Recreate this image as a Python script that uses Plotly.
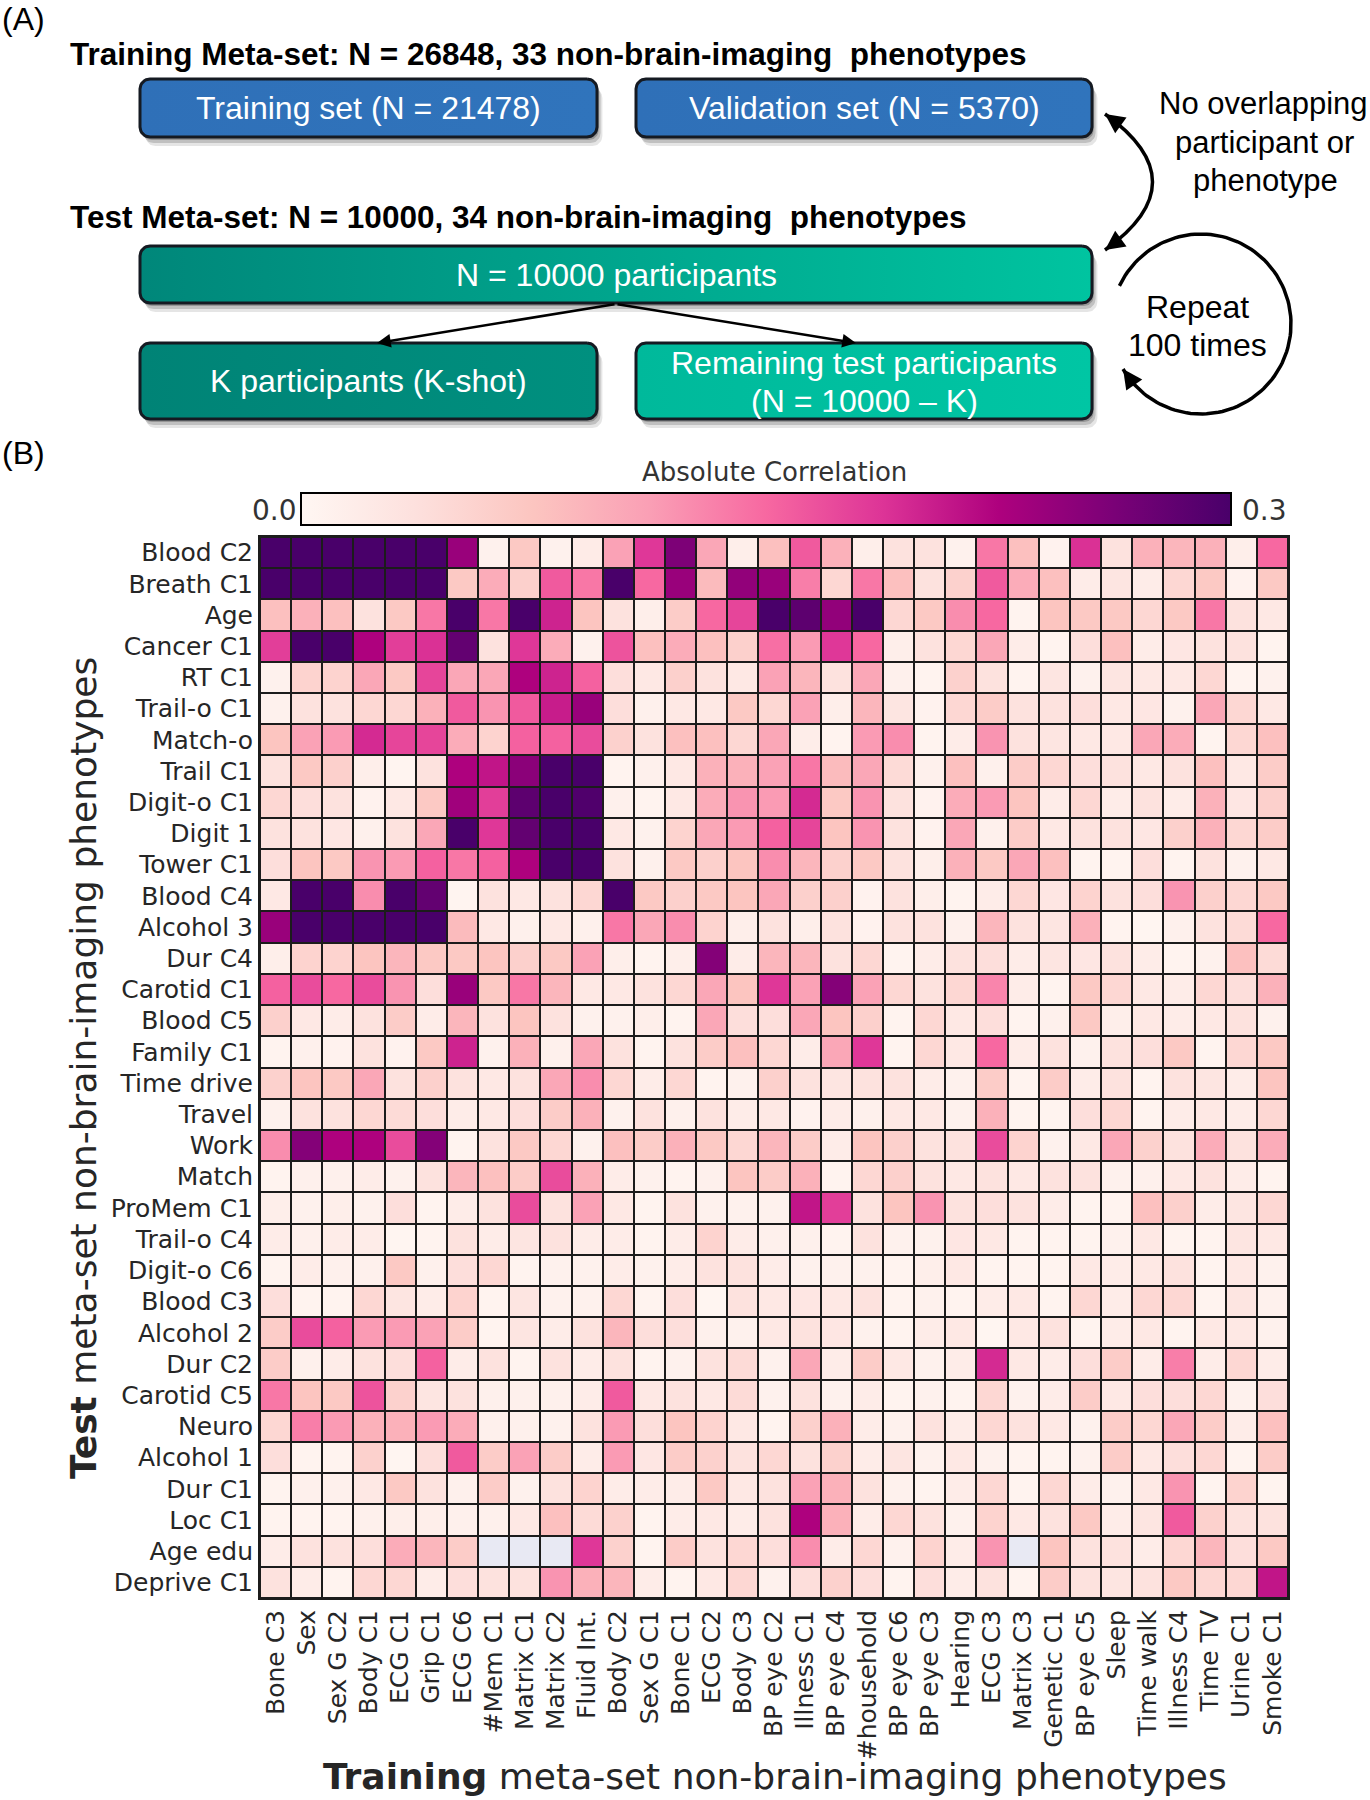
import math
import plotly.graph_objects as go

# ---------------- data ----------------
test_phenotypes = ["Blood C2", "Breath C1", "Age", "Cancer C1", "RT C1", "Trail-o C1", "Match-o",
                   "Trail C1", "Digit-o C1", "Digit 1", "Tower C1", "Blood C4", "Alcohol 3", "Dur C4",
                   "Carotid C1", "Blood C5", "Family C1", "Time drive", "Travel", "Work", "Match",
                   "ProMem C1", "Trail-o C4", "Digit-o C6", "Blood C3", "Alcohol 2", "Dur C2",
                   "Carotid C5", "Neuro", "Alcohol 1", "Dur C1", "Loc C1", "Age edu", "Deprive C1"]

train_phenotypes = ["Bone C3", "Sex", "Sex G C2", "Body C1", "ECG C1", "Grip C1", "ECG C6", "#Mem C1",
                    "Matrix C1", "Matrix C2", "Fluid Int.", "Body C2", "Sex G C1", "Bone C1", "ECG C2",
                    "Body C3", "BP eye C2", "Illness C1", "BP eye C4", "#household", "BP eye C6",
                    "BP eye C3", "Hearing", "ECG C3", "Matrix C3", "Genetic C1", "BP eye C5", "Sleep",
                    "Time walk", "Illness C4", "Time TV", "Urine C1", "Smoke C1"]

# absolute correlation, one list per test phenotype (None = excluded cell)
corr_rows = [
    [.30,.30,.30,.30,.30,.30,.24,.01,.07,.01,.02, .11,.185,.26,.105,.015,.08,.16,.095,.015,.035,.035, .01,.14,.08,.008,.19,.035,.095,.09,.095,.015,.15],
    [.30,.30,.30,.30,.30,.30,.07,.10,.06,.16,.14, .30,.15,.24,.085,.245,.24,.135,.05,.14,.08,.035, .058,.16,.10,.08,.018,.03,.018,.05,.07,.008,.07],
    [.08,.095,.08,.035,.07,.14,.30,.14,.30,.20,.075, .035,.015,.065,.15,.175,.30,.285,.245,.30,.05,.07, .125,.15,.006,.075,.07,.07,.05,.07,.14,.035,.025],
    [.18,.30,.30,.225,.18,.19,.28,.035,.185,.10,.01, .165,.08,.10,.08,.06,.145,.115,.185,.15,.015,.035, .05,.105,.018,.006,.04,.08,.018,.028,.035,.035,.006],
    [.01,.055,.055,.105,.07,.175,.105,.105,.225,.20,.155, .04,.025,.06,.035,.025,.11,.09,.035,.105,.012,.006, .058,.035,.006,.03,.01,.03,.025,.025,.05,.006,.01],
    [.01,.035,.035,.05,.05,.095,.16,.12,.16,.205,.24, .04,.012,.025,.025,.07,.05,.11,.015,.09,.03,.008, .05,.065,.035,.035,.04,.025,.028,.01,.105,.05,.025],
    [.075,.11,.115,.195,.175,.175,.10,.055,.155,.155,.17, .058,.035,.08,.08,.05,.105,.017,.006,.115,.125,.006, .018,.12,.035,.03,.025,.025,.105,.10,.006,.05,.08],
    [.035,.07,.06,.015,.005,.035,.225,.21,.25,.30,.30, .006,.012,.025,.095,.095,.11,.14,.085,.105,.045,.012, .08,.012,.065,.05,.04,.035,.025,.035,.08,.025,.065],
    [.05,.04,.035,.008,.025,.07,.235,.18,.285,.30,.295, .012,.006,.025,.10,.12,.115,.195,.07,.12,.035,.008, .10,.115,.075,.018,.05,.018,.035,.018,.095,.028,.06],
    [.035,.035,.028,.012,.035,.105,.30,.185,.28,.30,.30, .025,.01,.055,.105,.115,.155,.175,.075,.12,.035,.008, .105,.012,.065,.025,.035,.035,.028,.06,.095,.05,.065],
    [.04,.075,.07,.12,.115,.155,.14,.155,.225,.30,.30, .035,.012,.07,.06,.075,.125,.09,.058,.07,.035,.015, .095,.07,.105,.08,.006,.006,.04,.006,.035,.01,.025],
    [.025,.30,.30,.125,.30,.28,.005,.035,.025,.035,.05, .30,.07,.06,.07,.075,.105,.06,.06,.008,.035,.015, .006,.018,.05,.028,.055,.035,.04,.12,.06,.05,.07],
    [.24,.30,.30,.30,.30,.30,.085,.025,.012,.025,.012, .14,.105,.125,.055,.015,.035,.015,.035,.008,.035,.035, .012,.09,.035,.03,.095,.006,.004,.012,.035,.045,.15],
    [.015,.055,.055,.075,.09,.07,.07,.075,.06,.07,.11, .015,.006,.015,.255,.018,.09,.09,.035,.05,.006,.018, .035,.04,.018,.03,.028,.035,.018,.006,.01,.08,.045],
    [.155,.17,.15,.17,.12,.04,.24,.07,.14,.09,.025, .025,.035,.05,.105,.075,.185,.11,.255,.11,.05,.035, .05,.13,.018,.006,.07,.05,.025,.018,.05,.04,.095],
    [.06,.025,.018,.035,.065,.018,.09,.035,.075,.035,.01, .01,.015,.006,.105,.04,.04,.105,.075,.06,.006,.05, .025,.04,.006,.012,.07,.015,.025,.018,.025,.035,.01],
    [.006,.012,.008,.035,.008,.07,.20,.01,.095,.012,.105, .035,.006,.035,.065,.08,.05,.018,.105,.185,.006,.05, .025,.15,.018,.035,.01,.035,.04,.07,.006,.05,.07],
    [.058,.075,.07,.105,.035,.06,.035,.025,.035,.105,.125, .05,.018,.05,.006,.01,.06,.035,.03,.035,.035,.018, .01,.065,.006,.065,.018,.035,.006,.035,.03,.018,.075],
    [.01,.035,.035,.05,.045,.04,.018,.025,.04,.065,.095, .01,.035,.012,.035,.018,.025,.008,.018,.012,.025,.025, .01,.095,.006,.006,.04,.05,.006,.018,.025,.018,.05],
    [.125,.255,.225,.225,.17,.255,.006,.035,.07,.05,.01, .08,.065,.095,.07,.05,.09,.065,.018,.075,.06,.035, .035,.17,.055,.01,.025,.105,.058,.035,.10,.035,.10],
    [.006,.012,.012,.018,.01,.035,.09,.08,.065,.17,.095, .018,.01,.006,.012,.075,.065,.095,.006,.05,.06,.035, .025,.035,.025,.035,.035,.01,.012,.025,.035,.018,.006],
    [.015,.01,.015,.01,.04,.006,.018,.035,.17,.035,.11, .025,.006,.035,.01,.01,.01,.21,.18,.035,.075,.12, .035,.04,.035,.018,.006,.006,.08,.06,.018,.03,.05],
    [.018,.012,.018,.018,.004,.006,.035,.018,.03,.035,.018, .018,.006,.018,.055,.018,.012,.012,.006,.035,.01,.01, .028,.025,.006,.006,.006,.01,.025,.006,.006,.03,.025],
    [.006,.018,.012,.012,.07,.012,.04,.05,.006,.01,.01, .018,.01,.018,.035,.035,.018,.01,.01,.01,.006,.015, .025,.006,.006,.006,.025,.018,.025,.035,.006,.025,.01],
    [.04,.006,.006,.05,.03,.018,.055,.006,.03,.01,.01, .05,.006,.04,.004,.035,.025,.028,.025,.035,.006,.01, .006,.018,.025,.006,.05,.018,.05,.05,.006,.03,.01],
    [.065,.17,.155,.115,.115,.11,.065,.006,.03,.018,.035, .09,.04,.04,.012,.01,.025,.035,.028,.01,.006,.018, .025,.004,.025,.035,.006,.018,.025,.006,.025,.025,.01],
    [.065,.012,.018,.035,.04,.155,.018,.035,.006,.035,.018, .035,.006,.01,.035,.045,.01,.105,.018,.065,.025,.01, .018,.195,.025,.018,.04,.065,.018,.135,.018,.05,.018],
    [.14,.075,.07,.165,.058,.03,.035,.012,.012,.012,.018, .16,.025,.035,.025,.045,.01,.035,.01,.018,.006,.01, .006,.05,.01,.018,.065,.025,.04,.04,.05,.01,.04],
    [.05,.135,.115,.095,.095,.115,.10,.012,.012,.01,.035, .115,.04,.075,.055,.025,.006,.06,.095,.018,.01,.035, .018,.05,.035,.025,.01,.065,.05,.105,.065,.018,.08],
    [.04,.006,.006,.058,.004,.04,.16,.065,.11,.065,.018, .115,.028,.065,.058,.035,.05,.035,.058,.018,.03,.01, .025,.01,.006,.006,.01,.065,.025,.04,.05,.006,.065],
    [.006,.012,.012,.025,.07,.035,.012,.065,.01,.035,.055, .018,.018,.018,.07,.025,.035,.11,.095,.035,.01,.006, .018,.05,.006,.05,.018,.01,.025,.12,.006,.055,.006],
    [.006,.006,.006,.012,.015,.015,.012,.012,.025,.08,.045, .058,.006,.018,.025,.018,.035,.225,.095,.018,.05,.035, .01,.055,.025,.035,.07,.018,.03,.16,.058,.035,.035],
    [.018,.035,.035,.04,.10,.09,.065,None,None,None,.185, .058,.006,.065,.035,.05,.04,.125,.018,.05,.01,.055, .018,.12,None,.075,.035,.035,.018,.05,.09,.04,.07],
    [.035,.018,.006,.05,.05,.018,.04,.035,.035,.12,.095, .09,.018,.006,.025,.05,.01,.04,.058,.04,.006,.04, .018,.035,.006,.065,.035,.03,.035,.07,.05,.05,.21],
]

excluded_cells = [("Age edu", "#Mem C1"), ("Age edu", "Matrix C1"),
                  ("Age edu", "Matrix C2"), ("Age edu", "Matrix C3")]

cbar_min, cbar_max = 0.0, 0.3
cbar_title = "Absolute Correlation"

# ---------------- figure ----------------
W, H = 1370, 1800
fig = go.Figure()

rdpu = [[0.0, "rgb(255,247,243)"], [0.125, "rgb(253,224,221)"], [0.25, "rgb(252,197,192)"],
        [0.375, "rgb(250,159,181)"], [0.5, "rgb(247,104,161)"], [0.625, "rgb(221,52,151)"],
        [0.75, "rgb(174,1,126)"], [0.875, "rgb(122,1,119)"], [1.0, "rgb(73,0,106)"]]

fig.add_trace(go.Heatmap(
    z=corr_rows, x=train_phenotypes, y=test_phenotypes,
    colorscale=rdpu, zmin=cbar_min, zmax=cbar_max, xgap=2, ygap=2,
    hoverongaps=False,
    colorbar=dict(orientation="h", x=(301 + 1231) / 2 / W, xanchor="center",
                  y=1 - 510 / H, yanchor="middle", len=930 / W, lenmode="fraction",
                  thickness=32, outlinecolor="black", outlinewidth=2,
                  showticklabels=False, ticks="", xpad=0, ypad=0),
))

mask_z = [[1 if (r, c) in excluded_cells else None for c in train_phenotypes] for r in test_phenotypes]
fig.add_trace(go.Heatmap(z=mask_z, x=train_phenotypes, y=test_phenotypes,
                         colorscale=[[0, "#e8e9f3"], [1, "#e8e9f3"]], showscale=False,
                         xgap=2, ygap=2, hoverinfo="skip"))

# ---------- panel A drawing helpers (pixel coordinates on x2/y2) ----------
def rrect(x0, y0, x1, y1, r=10, n=8):
    xs, ys = [], []
    corners = [(x1 - r, y0 + r, -90, 0), (x1 - r, y1 - r, 0, 90),
               (x0 + r, y1 - r, 90, 180), (x0 + r, y0 + r, 180, 270)]
    for cx, cy, a0, a1 in corners:
        for i in range(n + 1):
            a = math.radians(a0 + (a1 - a0) * i / n)
            xs.append(cx + r * math.cos(a))
            ys.append(cy + r * math.sin(a))
    xs.append(xs[0]); ys.append(ys[0])
    return xs, ys

def box(x0, y0, x1, y1, c0, c1):
    for off, alpha in [(9, 0.10), (6, 0.16), (3, 0.22)]:
        sx, sy = rrect(x0 + off * 0.6, y0 + off, x1 + off * 0.6, y1 + off)
        fig.add_trace(go.Scatter(x=sx, y=sy, mode="lines", fill="toself",
                                 fillcolor=f"rgba(0,0,0,{alpha})", line=dict(width=0),
                                 xaxis="x2", yaxis="y2", hoverinfo="skip"))
    bx, by = rrect(x0, y0, x1, y1)
    fig.add_trace(go.Scatter(x=bx, y=by, mode="lines", fill="toself",
                             fillgradient=dict(type="horizontal", colorscale=[[0, c0], [1, c1]]),
                             line=dict(color="#151a22", width=3),
                             xaxis="x2", yaxis="y2", hoverinfo="skip"))

box(140, 79, 597, 137, "#2f70b8", "#3074bc")
box(636, 79, 1092, 137, "#2f70b8", "#3074bc")
box(140, 246, 1092, 303, "#00877a", "#00c4a0")
box(140, 343, 597, 419, "#008376", "#00907f")
box(636, 343, 1092, 419, "#00b99b", "#00c6a4")

annots = []
fA = "Liberation Sans, Arial, sans-serif"
fB = "DejaVu Sans, sans-serif"

def txt(x, y, s, size=32, color="black", family=fA, xanchor="center", **kw):
    annots.append(dict(x=x, y=y, xref="x2", yref="y2", text=s, showarrow=False,
                       font=dict(family=family, size=size, color=color),
                       xanchor=xanchor, yanchor="middle", **kw))

txt(0, 19, "(A)", xanchor="left")
txt(68, 54, "<b>Training Meta-set: N = 26848, 33 non-brain-imaging  phenotypes</b>", size=31.5, xanchor="left")
txt(368, 108, "Training set (N = 21478)", color="white")
txt(864, 108, "Validation set (N = 5370)", color="white")
txt(68, 217, "<b>Test Meta-set: N = 10000, 34 non-brain-imaging  phenotypes</b>", size=31.5, xanchor="left")
txt(616, 275, "N = 10000 participants", color="white")
txt(368, 381, "K participants (K-shot)", color="white")
txt(864, 363, "Remaining test participants", color="white")
txt(864, 401, "(N = 10000 – K)", color="white")
txt(1263, 103, "No overlapping", size=31)
txt(1264, 142, "participant or", size=31)
txt(1265, 180, "phenotype", size=31)
txt(1197, 307, "Repeat")
txt(1197, 345, "100 times")
txt(0, 453, "(B)", xanchor="left")

# straight arrows from the participant box
for hx in (377, 856):
    annots.append(dict(x=hx, y=343, ax=616, ay=304, xref="x2", yref="y2", axref="x2", ayref="y2",
                       text="", showarrow=True, arrowhead=2, arrowsize=1.1, arrowwidth=2.5,
                       arrowcolor="black"))

# curved double arrow
p0, p1, p2 = (1105, 114), (1200, 182), (1105, 250)
shapes = [dict(type="path", xref="x2", yref="y2",
               path=f"M {p0[0]},{p0[1]} Q {p1[0]},{p1[1]} {p2[0]},{p2[1]}",
               line=dict(color="black", width=3.5))]
for (hx, hy) in (p0, p2):
    dx, dy = p1[0] - hx, p1[1] - hy
    d = math.hypot(dx, dy)
    annots.append(dict(x=hx, y=hy, ax=hx + 14 * dx / d, ay=hy + 14 * dy / d,
                       xref="x2", yref="y2", axref="x2", ayref="y2", text="", showarrow=True,
                       arrowhead=2, arrowsize=1.3, arrowwidth=3, arrowcolor="black"))

# repeat circle
cx, cy, rr = 1201, 324, 90
angs = [-155 + i * (305 / 120) for i in range(121)]
fig.add_trace(go.Scatter(x=[cx + rr * math.cos(math.radians(a)) for a in angs],
                         y=[cy + rr * math.sin(math.radians(a)) for a in angs],
                         mode="lines", line=dict(color="black", width=3.5),
                         xaxis="x2", yaxis="y2", hoverinfo="skip"))
ae = math.radians(150); ab = math.radians(140)
annots.append(dict(x=cx + rr * math.cos(ae), y=cy + rr * math.sin(ae),
                   ax=cx + rr * math.cos(ab), ay=cy + rr * math.sin(ab),
                   xref="x2", yref="y2", axref="x2", ayref="y2", text="", showarrow=True,
                   arrowhead=2, arrowsize=1.3, arrowwidth=3, arrowcolor="black"))

# ---------- panel B text ----------
txt(774, 472, cbar_title, size=26, color="#333333", family=fB)
txt(299, 510, f"{cbar_min:.1f}", size=28, color="#333333", family=fB, xanchor="right")
txt(1240, 510, f"{cbar_max:.1f}", size=28, color="#333333", family=fB, xanchor="left")
txt(83, 1068, "<b>Test</b> meta-set non-brain-imaging phenotypes", size=36, color="#262626",
    family=fB, textangle=-90)
txt(775, 1776, "<b>Training</b> meta-set non-brain-imaging phenotypes", size=36, color="#262626",
    family=fB)

# black grid behind heatmap
shapes.insert(0, dict(type="rect", xref="x domain", yref="y domain", x0=0, x1=1, y0=0, y1=1,
                      fillcolor="#1c1c1c", line=dict(width=0), layer="below"))

fig.update_layout(
    width=W, height=H, autosize=False, margin=dict(l=0, r=0, t=0, b=0),
    paper_bgcolor="white", plot_bgcolor="rgba(0,0,0,0)", showlegend=False,
    xaxis=dict(domain=[260 / W, 1288 / W], anchor="y", tickangle=-90, ticks="",
               tickmode="array", tickvals=train_phenotypes, ticktext=train_phenotypes,
               tickfont=dict(family=fB, size=25, color="#262626"), showgrid=False,
               zeroline=False, showline=True, linecolor="#1c1c1c", linewidth=2, mirror=True,
               ticklabelstandoff=0),
    yaxis=dict(domain=[1 - 1598 / H, 1 - 537 / H], anchor="x", autorange="reversed", ticks="",
               tickmode="array", tickvals=test_phenotypes, ticktext=test_phenotypes,
               tickfont=dict(family=fB, size=25, color="#262626"), showgrid=False,
               zeroline=False, showline=True, linecolor="#1c1c1c", linewidth=2, mirror=True,
               ticklabelstandoff=0),
    xaxis2=dict(domain=[0, 1], anchor="y2", range=[0, W], visible=False, fixedrange=True),
    yaxis2=dict(domain=[0, 1], anchor="x2", range=[H, 0], visible=False, fixedrange=True),
    annotations=annots, shapes=shapes,
)

fig.write_html("out.html", config={"displayModeBar": False},
               post_script="document.body.style.margin='0px';document.body.style.padding='0px';")
